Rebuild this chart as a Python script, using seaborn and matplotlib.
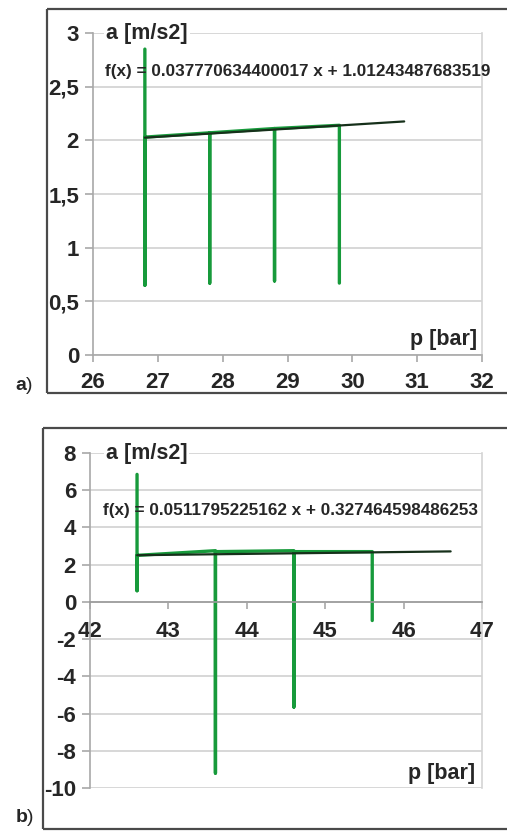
import numpy as np
import pandas as pd
import matplotlib
matplotlib.use("Agg")
import matplotlib.pyplot as plt
from matplotlib.lines import Line2D
import seaborn as sns

# ---------------- data ----------------
a_x = [26.8, 26.8, 26.8, 27.8, 27.8, 27.8, 28.8, 28.8, 28.8, 29.8, 29.8]
a_y = [2.85, 0.65, 2.03, 2.07, 0.67, 2.07, 2.11, 0.69, 2.11, 2.14, 0.67]
a_trend_x = [26.8, 30.8]
a_trend_y = [2.025, 2.176]
a_eq = "f(x) = 0.037770634400017 x + 1.01243487683519"
a_xticks = [26, 27, 28, 29, 30, 31, 32]
a_yticks = [0, 0.5, 1, 1.5, 2, 2.5, 3]
a_yticklabels = ["0", "0,5", "1", "1,5", "2", "2,5", "3"]

b_x = [42.6, 42.6, 42.6, 43.6, 43.6, 43.6, 44.6, 44.6, 44.6, 45.6, 45.6]
b_y = [6.85, 0.6, 2.5, 2.75, -9.2, 2.7, 2.75, -5.65, 2.7, 2.7, -1.0]
b_trend_x = [42.6, 46.6]
b_trend_y = [2.508, 2.713]
b_eq = "f(x) = 0.0511795225162 x + 0.327464598486253"
b_xticks = [42, 43, 44, 45, 46, 47]
b_yticks = [-10, -8, -6, -4, -2, 0, 2, 4, 6, 8]
b_yticklabels = ["-10", "-8", "-6", "-4", "-2", "0", "2", "4", "6", "8"]

ylabel = "a [m/s2]"
xlabel = "p [bar]"

# ---------------- style ----------------
sns.set_style("white")
plt.rcParams['font.family'] = ['Liberation Sans', 'DejaVu Sans']
plt.rcParams['font.weight'] = 'bold'
plt.rcParams['xtick.labelsize'] = 16
plt.rcParams['ytick.labelsize'] = 16

W, H = 507, 836
fig = plt.figure(figsize=(W / 100, H / 100), dpi=100)

GREEN = "#179a3b"
TREND = "#16301a"
GRID = "#d4d4d4"
AXC = "#a8a8a8"
FRAME = "#4a4a4a"


def px_axes(l, t, r, b):
    return fig.add_axes([l / W, 1 - b / H, (r - l) / W, (b - t) / H])


def frame(l, t, b):
    kw = dict(color=FRAME, lw=1.6, transform=fig.transFigure, solid_capstyle='butt')
    fig.add_artist(Line2D([l / W, l / W], [1 - t / H, 1 - b / H], **kw))
    fig.add_artist(Line2D([l / W, 1.01], [1 - t / H, 1 - t / H], **kw))
    fig.add_artist(Line2D([l / W, 1.01], [1 - b / H, 1 - b / H], **kw))


def style_axes(ax, xticks, yticks, yticklabels, xpad):
    ax.set_xticks(xticks)
    ax.set_xticklabels([str(v) for v in xticks], fontweight='bold', fontsize=16)
    ax.set_yticks(yticks)
    ax.set_yticklabels(yticklabels, fontweight='bold', fontsize=16)
    ax.yaxis.grid(True, color=GRID, lw=1.3)
    ax.xaxis.grid(False)
    ax.set_axisbelow(True)
    for s in ['left', 'right', 'bottom']:
        ax.spines[s].set_visible(True)
        ax.spines[s].set_color(AXC)
        ax.spines[s].set_linewidth(1.2)
    ax.spines['right'].set_color(GRID)
    ax.spines['top'].set_visible(False)
    ax.tick_params(axis='y', which='both', left=True, length=6, width=1.2,
                   color=AXC, pad=4, labelsize=16)
    ax.tick_params(axis='x', which='both', bottom=True, length=5, width=1.2,
                   color=AXC, pad=xpad, labelsize=16)
    ax.set_xlabel("")
    ax.set_ylabel("")


# ---------------- panel a ----------------
frame(47, 9, 393)
ax1 = px_axes(93, 33, 482, 355)
sns.lineplot(x=a_x, y=a_y, sort=False, estimator=None, color=GREEN, lw=2.4, ax=ax1)
sns.lineplot(x=a_trend_x, y=a_trend_y, sort=False, estimator=None, color=TREND, lw=1.6, ax=ax1)
ax1.set_xlim(26, 32)
ax1.set_ylim(0, 3)
style_axes(ax1, a_xticks, a_yticks, a_yticklabels, 7)
ax1.text(26.2, 3.0, ylabel, fontsize=15.5, fontweight='bold', va='center', ha='left',
         bbox=dict(facecolor='white', edgecolor='none', pad=1.5), zorder=5)
ax1.text(26.18, 2.64, a_eq, fontsize=12.3, fontweight='bold', va='center', ha='left',
         clip_on=False, zorder=5)
ax1.text(31.93, 0.14, xlabel, fontsize=15.5, fontweight='bold', va='center', ha='right', zorder=5)
fig.text(15 / W, 1 - 385 / H, "a", fontsize=14, fontweight='bold', va='center', ha='left')
fig.text(26 / W, 1 - 385 / H, ")", fontsize=14, fontweight='normal', va='center', ha='left')

# ---------------- panel b ----------------
frame(43, 428, 829)
ax2 = px_axes(90, 453, 482, 788)
sns.lineplot(x=b_x, y=b_y, sort=False, estimator=None, color=GREEN, lw=2.4, ax=ax2)
sns.lineplot(x=b_trend_x, y=b_trend_y, sort=False, estimator=None, color=TREND, lw=1.6, ax=ax2)
ax2.set_xlim(42, 47)
ax2.set_ylim(-10, 8)
ax2.spines['bottom'].set_position(('data', 0))
style_axes(ax2, b_xticks, b_yticks, b_yticklabels, 9)
ax2.spines['bottom'].set_color("#9a9a9a")
ax2.text(42.2, 8.0, ylabel, fontsize=15.5, fontweight='bold', va='center', ha='left',
         bbox=dict(facecolor='white', edgecolor='none', pad=1.5), zorder=5)
ax2.text(42.16, 4.9, b_eq, fontsize=12.3, fontweight='bold', va='center', ha='left',
         clip_on=False, zorder=5)
ax2.text(46.91, -9.2, xlabel, fontsize=15.5, fontweight='bold', va='center', ha='right', zorder=5)
fig.text(16 / W, 1 - 818 / H, "b", fontsize=14, fontweight='bold', va='center', ha='left')
fig.text(27 / W, 1 - 818 / H, ")", fontsize=14, fontweight='normal', va='center', ha='left')

fig.savefig("out.png", dpi=100)
